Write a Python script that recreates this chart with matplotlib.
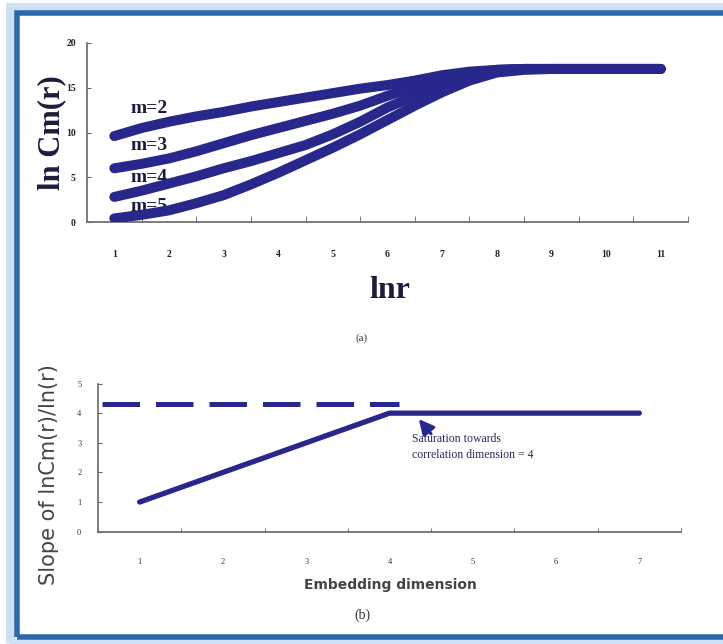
import numpy as np
import matplotlib
matplotlib.use('Agg')
import matplotlib.pyplot as plt
from matplotlib.patches import Rectangle

# panel (a): ln Cm(r) vs ln r for embedding dims m = 2..5
lnr = [1, 1.5, 2, 2.5, 3, 3.5, 4, 4.5, 5, 5.5, 6, 6.5, 7, 7.5, 8, 8.5, 9, 10, 11]
m2 = [9.6, 10.5, 11.2, 11.8, 12.3, 12.9, 13.4, 13.9, 14.4, 14.9, 15.3, 15.8, 16.4, 16.8,
      17.0, 17.1, 17.1, 17.1, 17.1]
m3 = [6.0, 6.5, 7.1, 7.9, 8.8, 9.7, 10.5, 11.3, 12.1, 13.0, 14.1, 15.1, 16.0, 16.6,
      17.0, 17.1, 17.1, 17.1, 17.1]
m4 = [2.8, 3.5, 4.3, 5.1, 6.0, 6.8, 7.7, 8.6, 9.8, 11.2, 12.8, 14.1, 15.3, 16.3,
      16.9, 17.1, 17.1, 17.1, 17.1]
m5 = [0.4, 0.8, 1.3, 2.1, 3.0, 4.2, 5.5, 6.9, 8.3, 9.8, 11.4, 13.0, 14.5, 15.8,
      16.7, 17.0, 17.1, 17.1, 17.1]
curve_labels = ['m=2', 'm=3', 'm=4', 'm=5']
label_y = [12.7, 8.6, 5.0, 1.7]
xticks_a = list(range(1, 12))
yticks_a = [0, 5, 10, 15, 20]

# panel (b): slope vs embedding dimension
emb_dim = [1, 2, 3, 4, 5, 6, 7]
slope = [1.0, 2.0, 3.0, 4.0, 4.0, 4.0, 4.0]
sat_level = 4.3
sat_x = [0.55, 4.12]
yticks_b = [0, 1, 2, 3, 4, 5]

navy = '#27278c'
W, H = 723, 644
fig = plt.figure(figsize=(W / 100, H / 100), dpi=100)

# blue frame: light glow outside, dark blue line
fig.patches.append(Rectangle((10 / W, 1 - 643 / H), 760 / W, 636 / H,
                             transform=fig.transFigure, fill=False,
                             edgecolor='#cfe0f4', lw=9 * 0.72, zorder=0))
fig.patches.append(Rectangle((16.5 / W, 1 - 636.5 / H), 760 / W, 623.5 / H,
                             transform=fig.transFigure, fill=False,
                             edgecolor='#2c66ad', lw=5.5 * 0.72, zorder=1))


def style_axes(ax):
    for s in ['top', 'right']:
        ax.spines[s].set_visible(False)
    for s in ['left', 'bottom']:
        ax.spines[s].set_color('#666666')
        ax.spines[s].set_linewidth(1.2)
    ax.set_facecolor('none')


# ---- (a)
ax1 = fig.add_axes([87 / W, 1 - 222 / H, 601 / W, 179 / H])
style_axes(ax1)
for ys in [m2, m3, m4, m5]:
    ax1.plot(lnr, ys, color=navy, lw=7.2, solid_capstyle='round',
             solid_joinstyle='round', zorder=3)
for lab, yy in zip(curve_labels, label_y):
    ax1.text(1.64, yy, lab, ha='center', va='center', fontsize=14,
             fontweight='bold', family='Liberation Serif', color='#1c1c3c', zorder=2)
ax1.set_xlim(0.5, 11.5)
ax1.set_ylim(0, 20)
ax1.set_xticks(xticks_a)
ax1.set_xticks(np.arange(1.5, 12, 1), minor=True)
ax1.set_yticks(yticks_a)
ax1.tick_params(axis='x', which='major', length=0, pad=20, labelsize=7)
ax1.tick_params(axis='x', which='minor', direction='in', length=4, color='#666666')
ax1.tick_params(axis='y', direction='in', length=3, pad=8, labelsize=7, color='#666666')
for t in ax1.get_xticklabels() + ax1.get_yticklabels():
    t.set_family('Liberation Serif')
    t.set_fontweight('bold')
    t.set_color('#222222')

fig.text(52 / W, 1 - 133 / H, 'ln Cm(r)', rotation=90, ha='center', va='center',
         fontsize=22, fontweight='bold', family='Liberation Serif', color='#1c1c3c')
fig.text(390 / W, 1 - 290 / H, 'lnr', ha='center', va='center',
         fontsize=23, fontweight='bold', family='Liberation Serif', color='#1c1c3c')
fig.text(362 / W, 1 - 338 / H, '(a)', ha='center', va='center', fontsize=8,
         family='Liberation Serif', color='#333333')

# ---- (b)
ax2 = fig.add_axes([98 / W, 1 - 531.7 / H, 583 / W, 148.2 / H])
style_axes(ax2)
ax2.plot(emb_dim, slope, color=navy, lw=3.8, solid_capstyle='round', zorder=3)
ax2.plot(sat_x, [sat_level, sat_level], color=navy, lw=3.6, dashes=(7.5, 3.2), zorder=3)
ax2.annotate('', xy=(4.33, 3.87), xytext=(4.52, 3.23),
             arrowprops=dict(arrowstyle='-|>,head_length=0.9,head_width=0.45',
                             color=navy, lw=2.2))
ax2.text(4.27, 2.86, 'Saturation towards\ncorrelation dimension = 4', ha='left', va='center',
         fontsize=8.5, family='Liberation Serif', color='#2a2a5a', linespacing=1.45)
ax2.set_xlim(0.5, 7.5)
ax2.set_ylim(0, 5)
ax2.set_xticks(emb_dim)
ax2.set_xticks(np.arange(1.5, 8, 1), minor=True)
ax2.set_yticks(yticks_b)
ax2.tick_params(axis='x', which='major', length=0, pad=19, labelsize=6)
ax2.tick_params(axis='x', which='minor', direction='in', length=3, color='#666666')
ax2.tick_params(axis='y', direction='in', length=3, pad=12, labelsize=6, color='#666666')
for t in ax2.get_xticklabels() + ax2.get_yticklabels():
    t.set_family('Liberation Serif')
    t.set_color('#333333')

fig.text(49 / W, 1 - 475 / H, 'Slope of lnCm(r)/ln(r)', rotation=90, ha='center', va='center',
         fontsize=15, family='DejaVu Sans', color='#444444')
fig.text(390 / W, 1 - 585 / H, 'Embedding dimension', ha='center', va='center',
         fontsize=10, fontweight='bold', family='DejaVu Sans', color='#444444')
fig.text(362 / W, 1 - 615 / H, '(b)', ha='center', va='center', fontsize=10,
         family='Liberation Serif', color='#333333')

fig.savefig('out.png', dpi=100)
